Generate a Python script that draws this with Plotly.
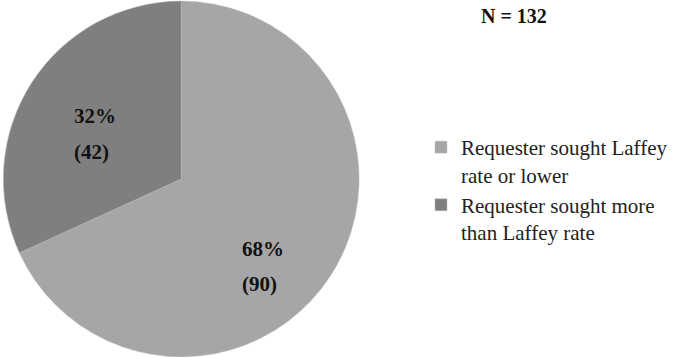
import plotly.graph_objects as go

labels = ["Requester sought Laffey<br>rate or lower", "Requester sought more<br>than Laffey rate"]
counts = [90, 42]
colors = ["#A6A6A6", "#7F7F7F"]
total_label = "N = 132"

W, H = 673, 358
font_family = "Liberation Serif, Times New Roman, serif"

fig = go.Figure(go.Pie(
    labels=labels,
    values=counts,
    sort=False,
    direction="clockwise",
    rotation=0,
    marker=dict(colors=colors, line=dict(color="#BDBDBD", width=0.5)),
    textinfo="none",
    hoverinfo="label+value+percent",
    domain=dict(x=[0.005, 0.536], y=[0, 1]),
))

total = sum(counts)
# label anchor positions (pixels, left-aligned) for each slice
label_pos = [(241, 249, 284), (72, 116, 152)]
anns = []
for c, (px, py1, py2) in zip(counts, label_pos):
    pct = f"{round(100 * c / total)}%"
    anns.append(dict(x=px / W, y=1 - py1 / H, xref="paper", yref="paper", text=f"<b>{pct}</b>",
                     showarrow=False, xanchor="left", yanchor="middle",
                     font=dict(family=font_family, size=21, color="#111111")))
    anns.append(dict(x=px / W, y=1 - py2 / H, xref="paper", yref="paper", text=f"<b>({c})</b>",
                     showarrow=False, xanchor="left", yanchor="middle",
                     font=dict(family=font_family, size=21, color="#111111")))
anns.append(dict(x=516 / W, y=1 - 16 / H, xref="paper", yref="paper", text=f"<b>{total_label}</b>",
                 showarrow=False, xanchor="center", yanchor="middle",
                 font=dict(family=font_family, size=20, color="#111111")))

fig.update_layout(
    width=W, height=H,
    margin=dict(l=0, r=0, t=0, b=0),
    paper_bgcolor="white",
    plot_bgcolor="white",
    annotations=anns,
    showlegend=True,
    legend=dict(
        x=423 / W, y=1 - 127 / H, xanchor="left", yanchor="top",
        font=dict(family=font_family, size=21, color="#222222"),
        valign="top",
        tracegroupgap=6,
        bgcolor="rgba(0,0,0,0)",
    ),
)

fig.write_html("out.html")
